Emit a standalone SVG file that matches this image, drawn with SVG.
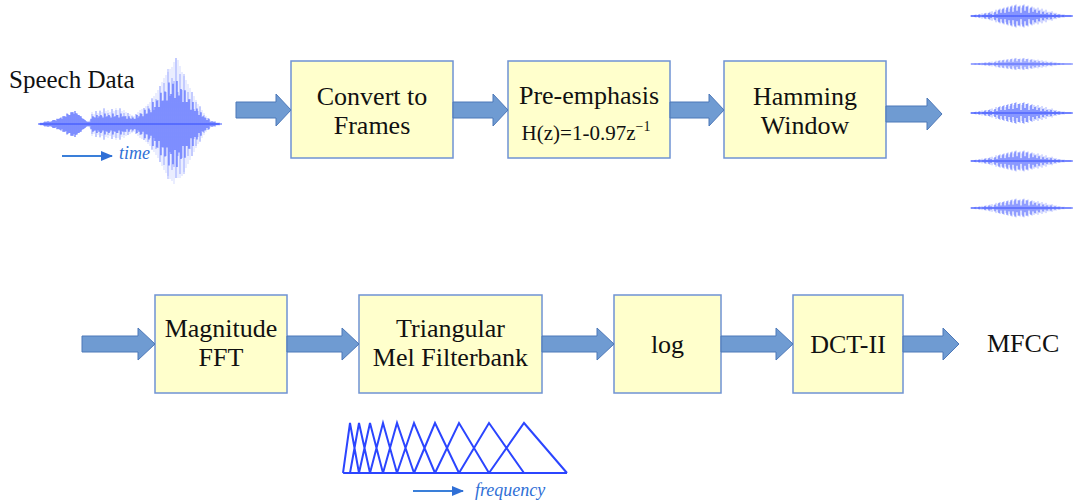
<svg xmlns="http://www.w3.org/2000/svg" xmlns:xlink="http://www.w3.org/1999/xlink" width="1073" height="500" viewBox="0 0 1073 500">
<style>
text{font-family:'Liberation Serif','Times New Roman',serif}
.box{fill:#ffffcc;stroke:#6f93d3;stroke-width:1.5}
.lbl{font-size:26px;fill:#111;text-anchor:middle}
.arr{fill:#6f9bd2;stroke:#4d78b8;stroke-width:1}
.ws{stroke:#2b45ff;stroke-width:0.9;fill:none;opacity:.22}
.wl{stroke:#2b45ff;stroke-width:0.9;fill:none;opacity:.45}
.wd{stroke:#2b45ff;stroke-width:0.9;fill:none}
.note{font-style:italic;font-size:18px;fill:#2f6fd6}
.tri{stroke:#2b45ff;stroke-width:2;fill:none}
</style>
<defs>
<marker id="ah" viewBox="0 0 12 10" refX="11" refY="5" markerWidth="13" markerHeight="10" orient="auto" markerUnits="userSpaceOnUse">
<path d="M0 0L12 5L0 10Z" fill="#2f6fd6"/>
</marker>
<g id="fw">
<path class="wd" stroke-width="0.7" d="M0 0H102"/>
<path class="wl" d="M1 -1v2M3 -1v2M5 -1.5v3M7 -1v2M9 -2v4M11 -2.5v5M13 -2v4M15 -3v6M17 -2.5v5M19 -4v8M21 -4.5v9M23 -3v6M25 -6v12M27 -5v10M29 -7v14M31 -6v12M33 -8v16M35 -6v12M37 -9v18M39 -7v14M41 -10v20M43 -8v16M45 -11v22M47 -9v18M49 -10v20M51 -8v16M53 -11v22M55 -9v18M57 -10v20M59 -7v14M61 -9v18M63 -8v16M65 -7v14M67 -8v16M69 -6v12M71 -7v14M73 -5v10M75 -6v12M77 -4v8M79 -4v8M81 -4.5v9M83 -3v6M85 -3v6M87 -2v4M89 -2v4M91 -1.5v3M93 -1.5v3M95 -1v2M97 -1v2M99 -1v2"/>
<path class="wd" d="M0 -.5v1M2 -.5v1M4 -1v2M6 -.5v1M8 -1.5v3M10 -.5v1M12 -1v2M14 -2.5v5M16 -1v2M18 -3v6M20 -2v4M22 -1v2M24 -4v8M26 -2v4M28 -6v12M30 -3v6M32 -7v14M34 -3v6M36 -8v16M38 -4v8M40 -9v18M42 -4v8M44 -10v20M46 -5v10M48 -9v18M50 -3v6M52 -10v20M54 -5v10M56 -9v18M58 -3v6M60 -8v16M62 -4v8M64 -6v12M66 -3v6M68 -5v10M70 -2v4M72 -4v8M74 -2v4M76 -3v6M78 -1.5v3M80 -3v6M82 -1v2M84 -2v4M86 -1v2M88 -1.5v3M90 -.5v1M92 -1v2M94 -.5v1M96 -.5v1M98 -.5v1M100 -.5v1"/>
</g>
</defs>

<g id="speech-data">
<text x="9" y="88" font-size="25" fill="#111">Speech Data</text>
<path class="wd" stroke-width="0.7" d="M38 124H222"/>
<path class="ws" d="M40 123v2M42 123v2M44 122v4M46 122v4M48 121v6M50 122v4M52 121v6M54 120v8M56 121v6M58 119v10M60 118v12M62 119v10M64 116v16M66 117v14M68 114v20M70 115v18M72 112v24M74 114v20M76 113v22M78 115v18M80 116v16M82 118v12M84 119v10M86 121v6M88 122v4M90 120v8M92 112v24M94 114v20M96 111v26M98 113v22M100 110v28M102 112v24M104 109v30M106 111v26M108 110v28M110 112v24M112 109v30M114 111v26M116 108v32M118 110v28M120 109v30M122 111v26M124 110v28M126 112v24M128 113v22M130 114v20M132 115v18M134 116v16M136 114v20M138 112v24M140 110v28M142 109v30M144 108v32M146 106v36M148 104v40M150 102v44M152 99v50M154 96v56M156 93v62M158 90v68M160 86v76M162 82v84M164 78v92M166 75v98M168 72v104M170 69v110M172 67v114M174 62v122M176 58v120M178 60v118M180 66v112M182 72v104M184 76v96M186 80v88M188 84v80M190 88v72M192 92v64M194 96v56M196 100v48M198 104v40M200 107v34M202 110v28M204 113v22M206 116v16M208 118v12M210 120v8M212 121v6M214 122v4M216 123v2M218 123v2"/>
<path class="wl" d="M40 123v2M42 123v2M44 122v4M46 122v4M48 121v6M50 122v4M52 121v6M54 120v8M56 121v6M58 119v10M60 118v12M62 119v10M64 116v16M66 117v14M68 114v20M70 115v18M72 112v24M74 114v20M76 113v22M78 115v18M80 116v16M82 118v12M84 119v10M86 121v6M88 122v4M90 122v4M92 114v20M94 117v14M96 111v26M98 118v12M100 111v26M102 116v16M104 108v32M106 117v14M108 113v22M110 116v16M112 109v30M114 117v14M116 110v28M118 115v18M120 108v32M122 117v14M124 113v22M126 116v16M128 113v22M130 118v12M132 116v16M134 119v10M136 114v20M138 118v12M140 113v22M142 114v20M144 108v32M146 114v20M148 106v36M150 110v28M152 98v52M154 110v28M156 99v50M158 100v48M160 86v76M162 101v46M164 83v82M166 92v64M168 69v110M170 96v56M172 78v92M174 81v86M176 58v120M178 92v64M180 74v100M182 90v68M184 74v100M186 102v44M188 92v64M190 99v50M192 92v64M194 109v30M196 102v44M198 111v26M200 106v36M202 117v14M204 115v18M206 118v12M208 118v12M210 122v4M212 121v6M214 122v4M216 123v2M218 123v2"/>
<path class="wd" transform="translate(0,124) scale(1,1.3) translate(0,-124)" d="M41 123v2M43 123v2M45 122v4M47 122v4M49 122v4M51 122v4M53 121v6M55 121v6M57 120v8M59 120v8M61 119v10M63 118v12M65 118v12M67 116v16M69 117v14M71 115v18M73 115v18M75 114v20M77 116v16M79 117v14M81 118v12M83 120v8M85 121v6M87 122v4M89 122v4M91 120v8M93 118v12M95 119v10M97 117v14M99 118v12M101 117v14M103 119v10M105 116v16M107 118v12M109 117v14M111 119v10M113 116v16M115 118v12M117 117v14M119 119v10M121 116v16M123 118v12M125 118v12M127 120v8M129 118v12M131 120v8M133 119v10M135 120v8M137 117v14M139 118v12M141 116v16M143 118v12M145 113v22M147 116v16M149 112v24M151 115v18M153 107v34M155 111v26M157 106v36M159 111v26M161 100v48M163 106v36M165 99v50M167 106v36M169 92v64M171 101v46M173 93v62M175 104v40M177 91v66M179 102v44M181 97v54M183 107v34M185 98v52M187 107v34M189 105v38M191 113v22M193 107v34M195 114v20M197 112v24M199 117v14M201 115v18M203 118v12M205 119v10M207 121v6M209 120v8M211 122v4M213 122v4M215 122v4M217 123v2M219 123v2"/>
<path d="M62 156H112" stroke="#3a7fd9" stroke-width="2" marker-end="url(#ah)"/>
<text class="note" x="119" y="159">time</text>
</g>

<g id="convert-frames">
<rect class="box" x="291" y="61" width="162" height="97"/>
<text class="lbl" x="372" y="105">Convert to</text>
<text class="lbl" x="372" y="134">Frames</text>
</g>

<g id="pre-emphasis">
<rect class="box" x="508" y="61" width="162" height="97"/>
<text class="lbl" x="589" y="104">Pre-emphasis</text>
<text x="586" y="140" font-size="21" fill="#111" text-anchor="middle">H(z)=1-0.97z<tspan font-size="14" dy="-9">−1</tspan></text>
</g>

<g id="hamming">
<rect class="box" x="724" y="61" width="162" height="97"/>
<text class="lbl" x="805" y="105">Hamming</text>
<text class="lbl" x="805" y="134">Window</text>
</g>

<g id="frames">
<use xlink:href="#fw" transform="translate(971,16) scale(1,1.05)"/>
<use xlink:href="#fw" transform="translate(971,64) scale(1,0.55)"/>
<use xlink:href="#fw" transform="translate(971,113) scale(1,1)"/>
<use xlink:href="#fw" transform="translate(971,161) scale(1,0.95)"/>
<use xlink:href="#fw" transform="translate(971,208) scale(1,0.85)"/>
</g>

<g id="magnitude-fft">
<rect class="box" x="155" y="295" width="132" height="98"/>
<text class="lbl" x="221" y="337">Magnitude</text>
<text class="lbl" x="221" y="366">FFT</text>
</g>

<g id="mel-filterbank">
<rect class="box" x="359" y="295" width="183" height="98"/>
<text class="lbl" x="450.5" y="337">Triangular</text>
<text class="lbl" x="450.5" y="366">Mel Filterbank</text>
</g>

<g id="filterbank-plot">
<path class="tri" d="M343 473H567M343 473L350 423L359 473M350 473L359 423L370 473M359 473L370 423L383 473M370 473L383 423L397 473M383 473L397 423L414 473M397 473L414 423L435 473M414 473L435 423L459 473M435 473L459 423L489 473M459 473L489 423L524 473M489 473L524 423L567 473"/>
<path d="M413 491H463" stroke="#3a7fd9" stroke-width="2" marker-end="url(#ah)"/>
<text class="note" x="475" y="496">frequency</text>
</g>

<g id="log">
<rect class="box" x="614" y="295" width="107" height="98"/>
<text class="lbl" x="667.5" y="353">log</text>
</g>

<g id="dct">
<rect class="box" x="793" y="295" width="110" height="98"/>
<text class="lbl" x="848" y="353">DCT-II</text>
</g>

<g id="mfcc">
<text x="987" y="352" font-size="26" fill="#111">MFCC</text>
</g>

<g id="connectors">
<path class="arr" d="M236 102H276V94L291 110L276 126V118H236Z"/>
<path class="arr" d="M453 102H493V94L508 110L493 126V118H453Z"/>
<path class="arr" d="M670 102H709V94L724 110L709 126V118H670Z"/>
<path class="arr" d="M886 106H927V98L942 114L927 130V122H886Z"/>
<path class="arr" d="M82 336H138V328L155 344L138 360V352H82Z"/>
<path class="arr" d="M287 336H342V328L359 344L342 360V352H287Z"/>
<path class="arr" d="M542 336H597V328L614 344L597 360V352H542Z"/>
<path class="arr" d="M721 336H776V328L793 344L776 360V352H721Z"/>
<path class="arr" d="M903 336H943V328L959 344L943 360V352H903Z"/>
</g>
</svg>
